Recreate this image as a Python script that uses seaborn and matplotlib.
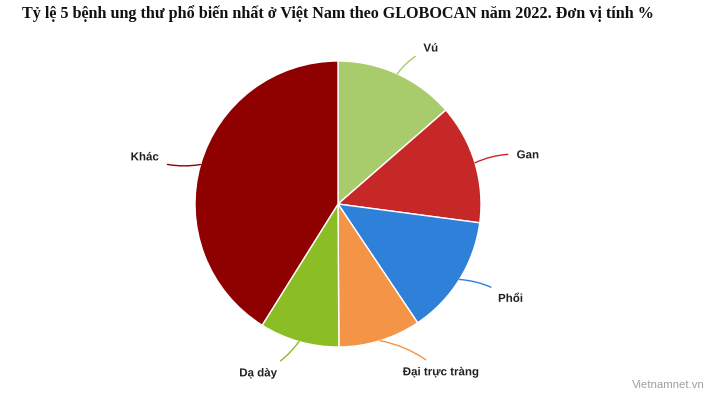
import numpy as np
import matplotlib
matplotlib.use("Agg")
import matplotlib.pyplot as plt
import matplotlib.patheffects as pe
import seaborn as sns

sns.set_style("white")
plt.rcParams['font.family'] = ['Liberation Sans', 'DejaVu Sans']

# Dữ liệu (GLOBOCAN 2022, %)
loai_ung_thu = ["Vú", "Gan", "Phổi", "Đại trực tràng", "Dạ dày", "Khác"]
ty_le = [13.6, 13.5, 13.5, 9.3, 9.0, 41.1]
mau = ["#a8cc6c", "#c62828", "#2e80d8", "#f39446", "#8bbd24", "#8f0000"]

W, H = 719, 404
cx, cy, R = 338, 204, 143

fig = plt.figure(figsize=(W / 100, H / 100), dpi=100)
ax = fig.add_axes([0, 0, 1, 1])

wedges, _ = ax.pie(ty_le, colors=mau, startangle=90, counterclock=False,
                   radius=1, wedgeprops=dict(edgecolor="white", linewidth=1))

ax.set_xlim(-cx / R, (W - cx) / R)
ax.set_ylim(-(H - cy) / R, cy / R)
ax.set_aspect("auto")
ax.axis("off")

# nhãn + đường dẫn
for w, ten, c in zip(wedges, loai_ung_thu, mau):
    goc = np.deg2rad((w.theta1 + w.theta2) / 2)
    cs, sn = np.cos(goc), np.sin(goc)
    dau = np.sign(cs) if abs(cs) > 1e-6 else 1
    tx = 1.2 * cs + dau * 0.1
    ty = 1.2 * sn - (0.03 if sn < 0 else 0.005)
    ax.annotate(ten, xy=(cs, sn), xytext=(tx, ty),
                ha="left" if dau > 0 else "right", va="center",
                fontsize=8.3, fontweight="bold", color="#222222",
                path_effects=[pe.withStroke(linewidth=2.4, foreground="white")],
                arrowprops=dict(arrowstyle="-", color=c, lw=1,
                                shrinkA=4, shrinkB=0,
                                connectionstyle="arc3,rad=0.15"))

fig.text(22 / W, 1 - 14 / H,
         "Tỷ lệ 5 bệnh ung thư phổ biến nhất ở Việt Nam theo GLOBOCAN năm 2022. Đơn vị tính %",
         family="Liberation Serif", fontweight="bold", fontsize=11.65,
         ha="left", va="center", color="#111111")

fig.text(705 / W, 1 - 385 / H, "Vietnamnet.vn", fontsize=8.2,
         color="#a0a0a0", ha="right", va="center")

fig.savefig("out.png", dpi=100)
